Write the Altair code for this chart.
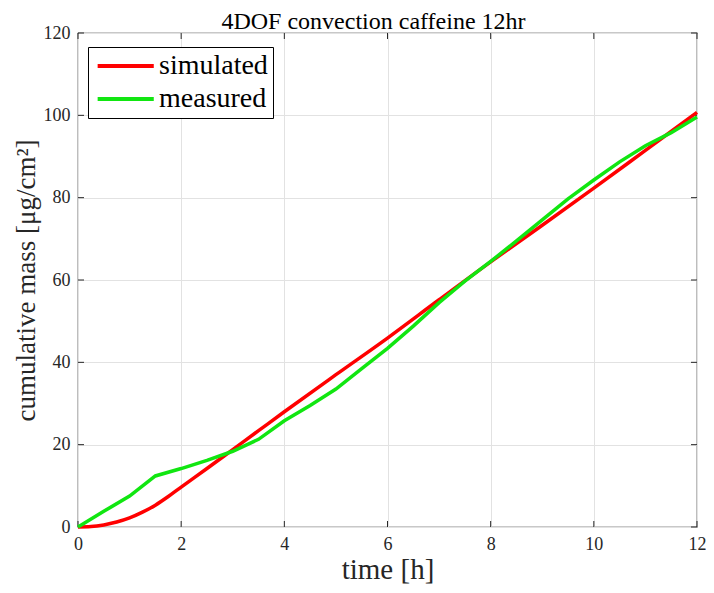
import altair as alt
import pandas as pd

# simulated (red) curve
t_sim = [0, 0.25, 0.5, 0.75, 1, 1.25, 1.5, 1.75, 2, 2.5, 3, 3.5, 4, 5, 6, 7, 8, 9, 10, 11, 12]
v_sim = [0, 0.1, 0.5, 1.2, 2.2, 3.6, 5.3, 7.4, 9.7, 14.2, 18.8, 23.4, 28.0, 37.0, 45.9, 55.2,
         64.4, 73.3, 82.3, 91.5, 100.7]
# measured (green) curve
t_meas = [0, 0.5, 1, 1.5, 2, 2.5, 3, 3.5, 4, 4.5, 5, 5.5, 6, 6.5, 7, 7.5, 8, 8.5, 9, 9.5,
          10, 10.5, 11, 11.5, 12]
v_meas = [0, 3.8, 7.5, 12.4, 14.2, 16.2, 18.4, 21.3, 25.8, 29.5, 33.5, 38.5, 43.4, 48.8,
          54.5, 59.7, 64.5, 69.5, 74.6, 79.7, 84.3, 88.7, 92.6, 95.8, 99.6]

x_ticks = [0, 2, 4, 6, 8, 10, 12]
y_ticks = [0, 20, 40, 60, 80, 100, 120]
series = ["simulated", "measured"]
colors = ["#ff0000", "#11e611"]

W, H = 619, 494
TL = 6
FONT = "Liberation Serif"
AX = "#262626"
XT = "time [h]"
YT = "cumulative mass [μg/cm²]"

sim = pd.DataFrame({"t": t_sim, "v": v_sim, "series": "simulated"})
meas = pd.DataFrame({"t": t_meas, "v": v_meas, "series": "measured"})
xt = pd.DataFrame({"t": x_ticks})
yt = pd.DataFrame({"v": y_ticks})

xs = alt.Scale(domain=[0, 12], nice=False, zero=False)
ys = alt.Scale(domain=[0, 120], nice=False, zero=False)


def X():
    return alt.X("t:Q", scale=xs, title=XT, axis=alt.Axis(values=x_ticks, format="d"))


def Y():
    return alt.Y("v:Q", scale=ys, title=YT, axis=alt.Axis(values=y_ticks, format="d"))


color = alt.Color("series:N", scale=alt.Scale(domain=series, range=colors),
                  sort=series, title=None,
                  legend=alt.Legend(orient="none", legendX=10, legendY=14,
                                    symbolType="M-1,0H5", symbolSize=350,
                                    symbolStrokeWidth=4, labelFontSize=28,
                                    labelFont=FONT, labelColor="black",
                                    labelOffset=38, rowPadding=5,
                                    padding=5, strokeColor="black",
                                    fillColor="white", cornerRadius=0))

red = alt.Chart(sim).mark_line(strokeWidth=3.5, interpolate="monotone").encode(
    x=X(), y=Y(), color=color, order="t:Q")
green = alt.Chart(meas).mark_line(strokeWidth=3.5).encode(
    x=X(), y=Y(), color=color, order="t:Q")

tick_b = alt.Chart(xt).mark_rule(color=AX, strokeWidth=1).encode(
    x=X(), y=alt.value(H), y2=alt.value(H - TL))
tick_t = alt.Chart(xt).mark_rule(color=AX, strokeWidth=1).encode(
    x=X(), y=alt.value(0), y2=alt.value(TL))
tick_l = alt.Chart(yt).mark_rule(color=AX, strokeWidth=1).encode(
    y=Y(), x=alt.value(0), x2=alt.value(TL))
tick_r = alt.Chart(yt).mark_rule(color=AX, strokeWidth=1).encode(
    y=Y(), x=alt.value(W), x2=alt.value(W - TL))

chart = alt.layer(tick_b, tick_t, tick_l, tick_r, red, green).properties(
    width=W, height=H,
    title=alt.TitleParams("4DOF convection caffeine 12hr", font=FONT, fontSize=24,
                          fontWeight="normal", color="black", offset=5, dx=-14, dy=15),
    autosize=alt.AutoSizeParams(type="none"),
    padding={"left": 70, "top": 25, "right": 9, "bottom": 58},
).configure_view(stroke=AX, strokeWidth=1.2).configure_axis(
    domain=False, ticks=False, grid=True, gridColor="#e2e2e2", gridWidth=1,
    labelFont=FONT, labelFontSize=18, labelColor=AX, labelPadding=8, labelFlush=False,
    titleFont=FONT, titleFontWeight="normal", titleColor=AX,
).configure_axisY(titlePadding=3, titleFontSize=27).configure_axisX(
    titlePadding=2, titleFontSize=29)

chart.save("out.html", embed_options={"renderer": "svg", "actions": False})
